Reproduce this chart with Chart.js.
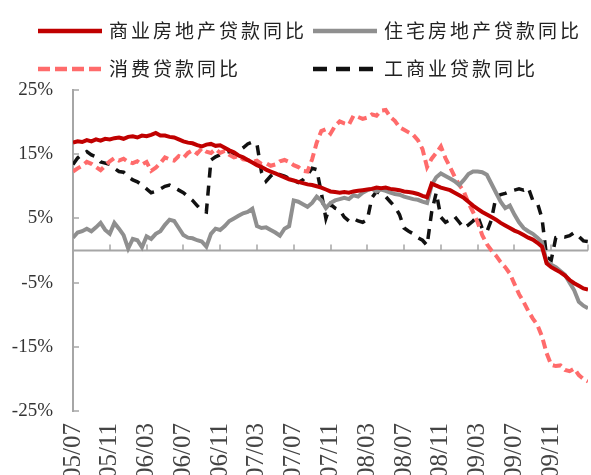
<!DOCTYPE html>
<html><head><meta charset="utf-8">
<script src="https://cdn.jsdelivr.net/npm/chart.js@4.4.1/dist/chart.umd.min.js"></script>
<style>
html,body{margin:0;padding:0;background:#fff;overflow:hidden;}
#wrap{position:relative;width:591px;height:475px;overflow:hidden;background:#fff;}
#c{position:absolute;left:0;top:0;}
.lgt{position:absolute;font-family:"Noto Sans CJK SC","Noto Sans CJK JP",sans-serif;font-size:19px;letter-spacing:3px;color:#222;line-height:22px;white-space:nowrap;}
.lgs{position:absolute;}
</style></head>
<body><div id="wrap"><canvas id="c" width="591" height="500"></canvas><div id="legend"></div></div>
<script>
// x tick labels (every 4 months, half-month data steps)
const tickLabels = ['05/07','05/11','06/03','06/07','06/11','07/03','07/07','07/11','08/03','08/07','08/11','09/03','09/07','09/11'];
const seriesNames = ['商业房地产贷款同比','住宅房地产贷款同比','消费贷款同比','工商业贷款同比'];

const commercialRE = [16.8,17.0,16.9,17.2,17.0,17.3,17.1,17.4,17.3,17.5,
 17.6,17.4,17.7,17.8,17.6,17.9,17.8,18.0,18.3,17.9,
 17.9,17.7,17.6,17.3,17.0,16.8,16.7,16.4,16.2,16.5,
 16.6,16.3,16.4,16.0,15.6,15.3,14.8,14.5,14.1,13.7,
 13.3,13.0,12.6,12.3,12.0,11.7,11.4,11.1,10.9,10.7,
 10.5,10.3,10.2,10.0,9.8,9.5,9.2,9.1,9.0,9.1,
 9.0,9.2,9.3,9.4,9.5,9.6,9.8,9.7,9.8,9.6,
 9.5,9.4,9.2,9.1,9.0,8.8,8.5,8.3,10.4,10.1,
 9.8,9.6,9.4,9.0,8.6,8.2,7.6,7.0,6.5,6.0,
 5.6,5.2,4.8,4.3,3.9,3.5,3.1,2.8,2.4,2.0,
 1.7,1.2,0.6,-2.0,-2.6,-3.0,-3.4,-3.9,-4.6,-5.1,
 -5.5,-5.9,-6.1];

const residentialRE = [2.0,2.8,3.0,3.4,3.0,3.6,4.3,3.2,2.6,4.3,
 3.4,2.4,0.3,1.8,1.6,0.5,2.2,1.8,2.6,3.0,
 4.0,4.8,4.6,3.5,2.4,2.0,1.9,1.6,1.4,0.6,
 2.6,3.4,3.2,3.8,4.6,5.0,5.4,5.8,6.0,6.5,
 3.8,3.5,3.6,3.2,2.8,2.3,3.4,3.8,7.8,7.6,
 7.2,6.8,7.4,8.4,7.8,6.6,7.4,7.8,8.0,8.2,
 8.0,8.6,8.4,9.0,9.4,9.6,9.2,9.5,9.3,9.0,
 8.8,8.7,8.4,8.2,8.0,7.9,7.6,7.4,10.2,11.4,
 12.0,11.6,11.2,10.8,10.2,11.0,11.9,12.3,12.3,12.2,
 11.8,10.4,9.0,7.6,6.6,7.0,5.6,4.4,3.5,3.0,
 2.6,2.0,1.3,-1.8,-2.2,-2.6,-3.2,-3.8,-5.0,-6.2,
 -8.0,-8.6,-9.0];

const consumer = [12.3,12.8,13.2,13.8,13.5,13.0,12.5,13.2,13.9,14.4,
 14.0,14.3,13.8,13.6,13.9,13.4,13.8,12.4,12.9,13.6,
 14.5,14.2,14.0,14.7,14.4,15.2,15.6,15.1,15.9,15.4,
 15.2,15.8,15.2,15.5,14.9,14.5,14.7,14.2,14.1,13.8,
 14.0,13.5,13.6,13.2,13.4,13.9,14.1,13.8,13.3,13.0,
 12.4,12.3,14.2,16.8,18.6,18.9,18.2,19.4,20.1,19.8,
 19.6,21.0,20.8,20.5,20.7,21.2,21.0,21.8,21.9,20.8,
 20.2,19.2,18.8,18.4,18.0,17.2,15.8,13.0,14.3,15.2,
 16.2,14.4,13.0,11.5,10.2,9.2,7.4,6.0,4.4,2.4,
 1.0,0.0,-0.8,-1.8,-2.6,-3.6,-5.2,-6.8,-8.0,-9.4,
 -10.6,-11.6,-13.4,-16.0,-17.8,-18.0,-17.9,-18.6,-18.8,-18.4,
 -19.4,-20.0,-20.4];

const commercialIndustrial = [13.4,14.4,15.0,15.4,14.9,14.6,13.8,13.6,13.4,12.8,
 12.3,12.2,11.5,11.0,10.7,10.2,9.6,9.0,9.2,9.6,
 10.0,10.2,9.8,9.4,9.0,8.4,7.8,7.0,6.2,6.0,
 14.1,14.6,14.9,15.2,15.4,15.0,15.5,16.0,16.6,16.9,
 16.6,12.2,10.8,11.6,12.2,11.8,11.6,11.2,10.9,10.6,
 11.0,11.8,12.8,12.6,9.0,5.0,7.2,6.6,6.3,5.2,
 4.6,5.0,4.6,4.4,4.8,8.2,9.2,8.8,8.4,7.6,
 6.8,5.6,3.5,3.0,2.6,2.0,1.6,0.8,6.0,9.0,
 5.2,4.4,4.8,5.3,4.4,3.5,4.0,4.6,5.4,3.4,
 2.9,4.8,8.4,8.7,8.9,9.2,9.4,9.6,9.4,9.8,
 7.8,7.4,5.0,-1.0,-1.5,2.0,2.2,2.1,2.3,2.8,
 2.2,1.5,1.4];

// month offsets from 2005/07 (half-month steps)
const xMonths = commercialRE.map((_, i) => i / 2);
const toXY = arr => arr.map((v, i) => ({x: xMonths[i], y: v}));

const styles = [
  {color:'#c00000', width:4, dash:[]},
  {color:'#8f8f8f', width:4, dash:[]},
  {color:'#ff6b6b', width:4, dash:[9,5]},
  {color:'#111111', width:3.5, dash:[10,8]}
];
const seriesData = [commercialRE, residentialRE, consumer, commercialIndustrial];

const datasets = seriesData.map((d, k) => ({
  label: seriesNames[k], data: toXY(d),
  borderColor: styles[k].color, borderWidth: styles[k].width, borderDash: styles[k].dash,
  pointRadius: 0, tension: 0, fill: false
}));

const axisDecor = {
  id: 'axisDecor',
  beforeDatasetsDraw(chart) {
    const {ctx, chartArea: ca, scales: {x, y}} = chart;
    const y0 = y.getPixelForValue(0);
    ctx.save();
    ctx.strokeStyle = '#a6a6a6';
    ctx.lineWidth = 2;
    ctx.beginPath(); ctx.moveTo(ca.left, y0); ctx.lineTo(ca.right, y0); ctx.stroke();
    ctx.lineWidth = 1.5;
    ctx.beginPath();
    x.ticks.forEach(t => { const px = Math.round(x.getPixelForValue(t.value)); ctx.moveTo(px, y0); ctx.lineTo(px, y0 - 6); });
    y.ticks.forEach(t => { const py = Math.round(y.getPixelForValue(t.value)); ctx.moveTo(ca.left, py); ctx.lineTo(ca.left + 6, py); });
    ctx.stroke();
    ctx.restore();
  }
};

new Chart(document.getElementById('c'), {
  type: 'line',
  data: { datasets },
  options: {
    responsive: false, animation: false, devicePixelRatio: 1,
    layout: { padding: { top: 90, right: 3, left: 0, bottom: 0 } },
    plugins: { legend: { display: false }, tooltip: { enabled: false } },
    scales: {
      x: {
        type: 'linear', min: 0, max: 56,
        grid: { display: false, drawTicks: false },
        border: { display: false },
        ticks: {
          stepSize: 4, autoSkip: false, maxRotation: 90, minRotation: 90, padding: 12,
          font: { family: 'Liberation Serif', size: 25 }, color: '#444',
          callback: v => tickLabels[Math.round(v / 4)] || ''
        },
        afterFit: s => { s.height = 89; s.paddingLeft = 0; s.paddingRight = 0; }
      },
      y: {
        min: -25, max: 25,
        grid: { display: false, drawTicks: false },
        border: { display: true, color: '#a6a6a6', width: 2 },
        ticks: {
          stepSize: 10, padding: 20,
          font: { family: 'Liberation Serif', size: 19 }, color: '#333',
          callback: v => v + '%'
        },
        afterFit: s => { s.width = 73; s.paddingTop = 0; s.paddingBottom = 0; }
      }
    }
  },
  plugins: [axisDecor]
});

// HTML legend (two rows, two columns)
const legendPos = [{x:38, y:31}, {x:313, y:31}, {x:38, y:69}, {x:313, y:69}];
const lg = document.getElementById('legend');
seriesNames.forEach((name, k) => {
  const p = legendPos[k], st = styles[k];
  const svg = document.createElementNS('http://www.w3.org/2000/svg', 'svg');
  svg.setAttribute('class', 'lgs');
  svg.setAttribute('width', '64'); svg.setAttribute('height', '10');
  svg.style.left = p.x + 'px'; svg.style.top = (p.y - 5) + 'px';
  const ln = document.createElementNS('http://www.w3.org/2000/svg', 'line');
  ln.setAttribute('x1', '0'); ln.setAttribute('x2', '64'); ln.setAttribute('y1', '5'); ln.setAttribute('y2', '5');
  ln.setAttribute('stroke', st.color); ln.setAttribute('stroke-width', '4.5');
  if (k === 2) ln.setAttribute('stroke-dasharray', '12 5');
  if (k === 3) ln.setAttribute('stroke-dasharray', '14 9');
  svg.appendChild(ln);
  lg.appendChild(svg);
  const t = document.createElement('div');
  t.className = 'lgt'; t.textContent = name;
  t.style.left = (p.x + 71) + 'px'; t.style.top = (p.y - 12) + 'px';
  lg.appendChild(t);
});
</script>
</body></html>
